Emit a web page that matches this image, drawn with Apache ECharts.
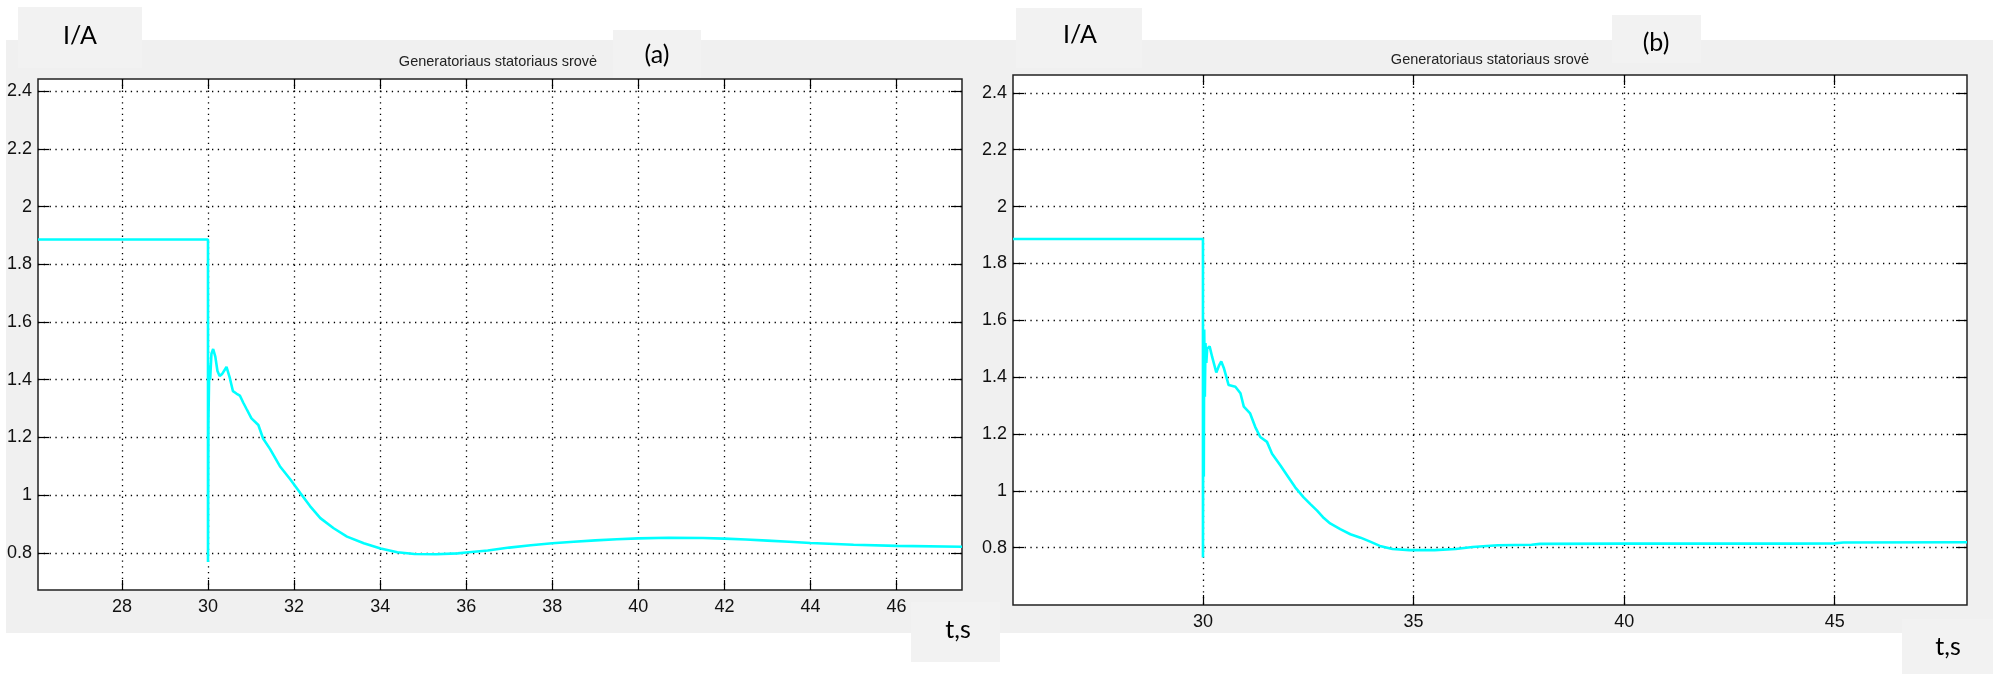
<!DOCTYPE html>
<html>
<head>
<meta charset="utf-8">
<title>Generatoriaus statoriaus srovė</title>
<script src="https://cdn.jsdelivr.net/npm/echarts@6/dist/echarts.min.js"></script>
<style>
html, body { margin: 0; padding: 0; background: #fff; }
#chart { width: 1993px; height: 674px; }
</style>
</head>
<body>
<div id="chart"></div>
<script>
// (a) stator current, t in s, I in A
const timeA = [26.05, 30.0, 30.0, 30.01, 30.03, 30.05, 30.08, 30.12, 30.17, 30.22, 30.27, 30.33, 30.43, 30.5, 30.58,
  30.66, 30.74, 30.82, 30.89, 31.01, 31.17, 31.28, 31.44, 31.67, 31.91, 32.14, 32.37, 32.61, 32.92, 33.23, 33.62,
  34.01, 34.4, 34.8, 35.3, 35.8, 36.0, 36.5, 37.0, 37.5, 38.0, 38.5, 39.0, 39.5, 40.0, 40.7, 41.5, 42.0, 42.5,
  43.0, 43.5, 44.0, 45.0, 46.0, 47.52];
const currentA = [1.886, 1.886, 0.768, 1.25, 1.45, 1.40, 1.49, 1.506, 1.48, 1.43, 1.413, 1.42, 1.444, 1.41, 1.36,
  1.352, 1.345, 1.32, 1.30, 1.266, 1.243, 1.196, 1.16, 1.10, 1.055, 1.008, 0.962, 0.92, 0.885, 0.856, 0.833,
  0.815, 0.802, 0.796, 0.795, 0.798, 0.801, 0.808, 0.818, 0.826, 0.833, 0.838, 0.843, 0.847, 0.850, 0.852, 0.851, 0.849, 0.846,
  0.842, 0.838, 0.834, 0.828, 0.824, 0.821];

// (b)
const timeB = [25.49, 30.0, 30.0, 30.01, 30.02, 30.03, 30.045, 30.06, 30.08, 30.1, 30.158, 30.22, 30.317, 30.38, 30.435,
  30.5, 30.61, 30.77, 30.89, 30.97, 31.12, 31.24, 31.36, 31.52, 31.64, 31.84, 32.0, 32.19, 32.39, 32.55, 32.71,
  32.87, 33.02, 33.26, 33.5, 33.74, 33.97, 34.2, 34.5, 34.9, 35.5, 36.0, 36.4, 37.0, 37.8, 38.0, 40.0, 42.0,
  44.0, 45.0, 45.2, 48.14];
const currentB = [1.886, 1.886, 0.765, 1.55, 1.05, 1.567, 1.331, 1.52, 1.45, 1.50, 1.508, 1.47, 1.416, 1.44, 1.455,
  1.43, 1.372, 1.366, 1.343, 1.296, 1.272, 1.225, 1.189, 1.172, 1.130, 1.089, 1.054, 1.012, 0.977, 0.953, 0.930,
  0.904, 0.885, 0.865, 0.847, 0.835, 0.821, 0.806, 0.795, 0.791, 0.791, 0.795, 0.802, 0.808, 0.810, 0.813, 0.814, 0.814,
  0.814, 0.815, 0.818, 0.819];

// tick labels
const ticksXA = [28, 30, 32, 34, 36, 38, 40, 42, 44, 46];
const ticksXB = [30, 35, 40, 45];
const ticksY = [0.8, 1, 1.2, 1.4, 1.6, 1.8, 2, 2.2, 2.4];

const chart = echarts.init(document.getElementById('chart'));

const labelFont = {
  fontFamily: '"Liberation Sans Narrow", "Liberation Sans", sans-serif',
  fontSize: 18,
  color: '#111'
};
const boxFont = 'Lato, "Open Sans", sans-serif';
const gridDots = { color: '#000', width: 1.3, type: [1.3, 4.5] };

const xAxisMain = (grid, min, max, ticks, margin) => ({
  type: 'value', gridIndex: grid, min: min, max: max, position: 'bottom',
  axisLine: { show: false },
  axisTick: { inside: true, length: 10, customValues: ticks, lineStyle: { color: '#000', width: 1.2 } },
  axisLabel: Object.assign({ customValues: ticks, margin: margin }, labelFont),
  splitLine: { show: true, lineStyle: gridDots }
});
const xAxisTop = (grid, min, max, ticks) => ({
  type: 'value', gridIndex: grid, min: min, max: max, position: 'top',
  axisLine: { show: false },
  axisTick: { inside: true, length: 10, customValues: ticks, lineStyle: { color: '#000', width: 1.2 } },
  axisLabel: { show: false },
  splitLine: { show: false }
});
const yAxisMain = (grid, min, max) => ({
  type: 'value', gridIndex: grid, min: min, max: max, position: 'left',
  axisLine: { show: false },
  axisTick: { inside: true, length: 11, customValues: ticksY, lineStyle: { color: '#000', width: 1.2 } },
  axisLabel: Object.assign({ customValues: ticksY, margin: 6 }, labelFont),
  splitLine: { show: true, lineStyle: gridDots }
});
const yAxisRight = (grid, min, max) => ({
  type: 'value', gridIndex: grid, min: min, max: max, position: 'right',
  axisLine: { show: false },
  axisTick: { inside: true, length: 11, customValues: ticksY, lineStyle: { color: '#000', width: 1.2 } },
  axisLabel: { show: false },
  splitLine: { show: false }
});

const boxRect = (x, y, w, h) => ({
  type: 'rect', z: -5, silent: true,
  shape: { x: x, y: y, width: w, height: h },
  style: { fill: '#f2f2f2' }
});
const label = (text, x, y, size, font, color) => ({
  type: 'text', z: 5, silent: true, x: x, y: y,
  style: { text: text, fontSize: size, fontFamily: font, fill: color || '#000', align: 'center', verticalAlign: 'middle' }
});

chart.setOption({
  animation: false,
  backgroundColor: '#fff',
  grid: [
    { left: 38, top: 79, width: 924, height: 511, show: true, backgroundColor: '#fff', borderColor: '#222', borderWidth: 1.5 },
    { left: 1013, top: 75, width: 954, height: 530, show: true, backgroundColor: '#fff', borderColor: '#222', borderWidth: 1.5 }
  ],
  xAxis: [
    xAxisMain(0, 26.05, 47.52, ticksXA, 8),
    xAxisTop(0, 26.05, 47.52, ticksXA),
    xAxisMain(1, 25.49, 48.14, ticksXB, 8),
    xAxisTop(1, 25.49, 48.14, ticksXB)
  ],
  yAxis: [
    yAxisMain(0, 0.671, 2.442),
    yAxisRight(0, 0.671, 2.442),
    yAxisMain(1, 0.598, 2.463),
    yAxisRight(1, 0.598, 2.463)
  ],
  series: [
    {
      name: '(a)', type: 'line', xAxisIndex: 0, yAxisIndex: 0,
      data: timeA.map((t, i) => [t, currentA[i]]),
      symbol: 'none', lineStyle: { color: '#00ffff', width: 2.6 }
    },
    {
      name: '(b)', type: 'line', xAxisIndex: 2, yAxisIndex: 2,
      data: timeB.map((t, i) => [t, currentB[i]]),
      symbol: 'none', lineStyle: { color: '#00ffff', width: 2.6 }
    }
  ],
  graphic: { elements: [
    { type: 'rect', z: -10, silent: true, shape: { x: 6, y: 40, width: 1987, height: 593 }, style: { fill: '#f0f0f0' } },
    boxRect(18, 7, 124, 61),
    boxRect(1016, 8, 126, 60),
    boxRect(613, 30, 88, 48),
    boxRect(1612, 15, 89, 48),
    boxRect(911, 602, 89, 60),
    boxRect(1902, 619, 91, 55),
    label('I/A', 80, 36, 25, boxFont),
    label('I/A', 1080, 35, 25, boxFont),
    label('(a)', 657, 55, 25, boxFont),
    label('(b)', 1656, 43, 25, boxFont),
    label('t,s', 958, 630, 25, boxFont),
    label('t,s', 1948, 647, 25, boxFont),
    label('Generatoriaus statoriaus srovė', 498, 62, 14.5, '"Liberation Sans", sans-serif', '#222'),
    label('Generatoriaus statoriaus srovė', 1490, 60, 14.5, '"Liberation Sans", sans-serif', '#222')
  ] }
});
</script>
</body>
</html>
